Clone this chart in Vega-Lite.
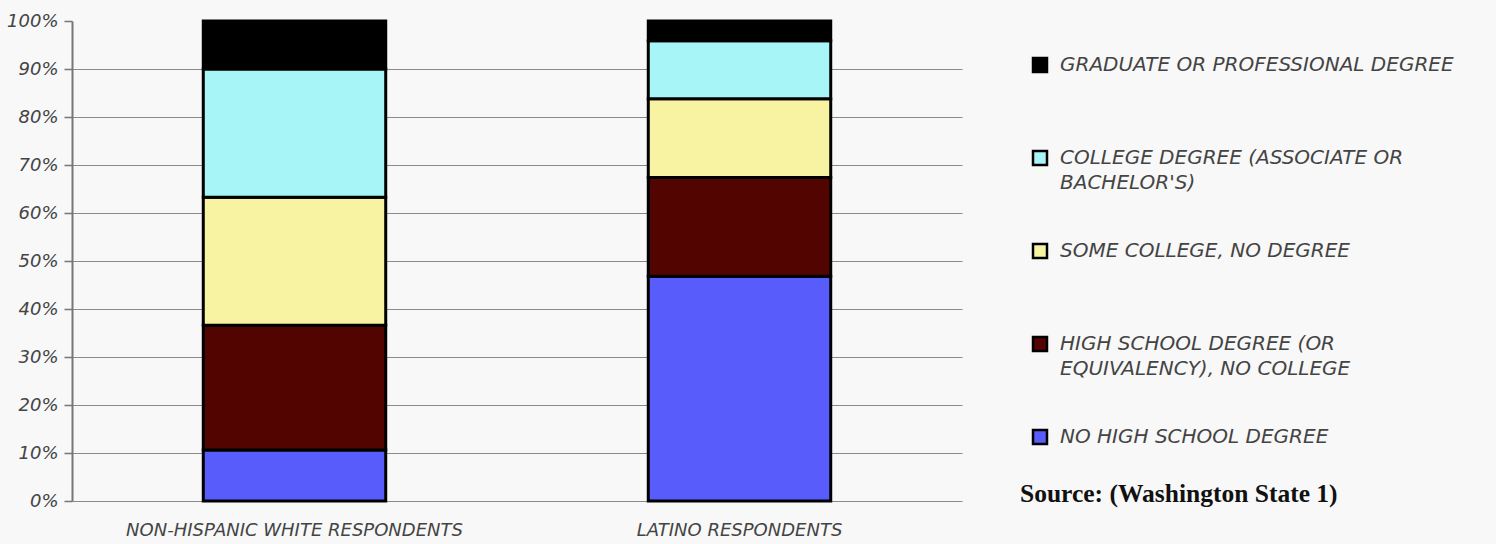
{
  "$schema": "https://vega.github.io/schema/vega-lite/v6.json",
  "width": 890,
  "height": 480,
  "autosize": {"type": "none"},
  "padding": {"left": 72, "top": 21, "right": 534, "bottom": 43},
  "background": "#f8f8f8",
  "config": {"view": {"stroke": null}},
  "data": {
    "values": [
      {"group": "NON-HISPANIC WHITE RESPONDENTS", "level": "NO HIGH SCHOOL DEGREE|", "o": 1, "value": 10.6},
      {"group": "NON-HISPANIC WHITE RESPONDENTS", "level": "HIGH SCHOOL DEGREE (OR|EQUIVALENCY), NO COLLEGE", "o": 2, "value": 26.0},
      {"group": "NON-HISPANIC WHITE RESPONDENTS", "level": "SOME COLLEGE, NO DEGREE|", "o": 3, "value": 26.7},
      {"group": "NON-HISPANIC WHITE RESPONDENTS", "level": "COLLEGE DEGREE (ASSOCIATE OR|BACHELOR'S)", "o": 4, "value": 26.7},
      {"group": "NON-HISPANIC WHITE RESPONDENTS", "level": "GRADUATE OR PROFESSIONAL DEGREE|", "o": 5, "value": 10.0},
      {"group": "LATINO RESPONDENTS", "level": "NO HIGH SCHOOL DEGREE|", "o": 1, "value": 46.8},
      {"group": "LATINO RESPONDENTS", "level": "HIGH SCHOOL DEGREE (OR|EQUIVALENCY), NO COLLEGE", "o": 2, "value": 20.6},
      {"group": "LATINO RESPONDENTS", "level": "SOME COLLEGE, NO DEGREE|", "o": 3, "value": 16.4},
      {"group": "LATINO RESPONDENTS", "level": "COLLEGE DEGREE (ASSOCIATE OR|BACHELOR'S)", "o": 4, "value": 12.1},
      {"group": "LATINO RESPONDENTS", "level": "GRADUATE OR PROFESSIONAL DEGREE|", "o": 5, "value": 4.1}
    ]
  },
  "title": {
    "text": "Source: (Washington State 1)",
    "orient": "bottom",
    "anchor": "start",
    "frame": "group",
    "dx": 948,
    "dy": -61,
    "font": "Liberation Serif",
    "fontSize": 25.5,
    "fontWeight": "bold",
    "color": "#111111"
  },
  "mark": {"type": "bar", "stroke": "#000000", "strokeWidth": 3, "width": {"band": 0.41}},
  "encoding": {
    "x": {
      "field": "group",
      "type": "nominal",
      "sort": ["NON-HISPANIC WHITE RESPONDENTS", "LATINO RESPONDENTS"],
      "scale": {"paddingInner": 0, "paddingOuter": 0},
      "axis": {
        "title": null,
        "labelAngle": 0,
        "ticks": false,
        "domain": false,
        "labelPadding": 20,
        "labelFont": "DejaVu Sans",
        "labelFontStyle": "italic",
        "labelFontSize": 18,
        "labelColor": "#444444",
        "labelLimit": 500
      }
    },
    "y": {
      "field": "value",
      "type": "quantitative",
      "stack": "zero",
      "scale": {"domain": [0, 100], "nice": false},
      "axis": {
        "title": null,
        "values": [0, 10, 20, 30, 40, 50, 60, 70, 80, 90, 100],
        "labelExpr": "datum.value + '%'",
        "grid": true,
        "gridColor": "#8a8a8a",
        "gridWidth": 1.2,
        "gridOpacity": {"condition": {"test": "datum.value === 100", "value": 0}, "value": 1},
        "domainColor": "#777777",
        "domainWidth": 2,
        "tickColor": "#777777",
        "tickWidth": 1.5,
        "tickSize": 8,
        "labelPadding": 6,
        "labelFont": "DejaVu Sans",
        "labelFontStyle": "italic",
        "labelFontSize": 18,
        "labelColor": "#444444"
      }
    },
    "color": {
      "field": "level",
      "type": "nominal",
      "scale": {
        "domain": ["GRADUATE OR PROFESSIONAL DEGREE|", "COLLEGE DEGREE (ASSOCIATE OR|BACHELOR'S)", "SOME COLLEGE, NO DEGREE|", "HIGH SCHOOL DEGREE (OR|EQUIVALENCY), NO COLLEGE", "NO HIGH SCHOOL DEGREE|"],
        "range": ["#000000", "#a8f5f8", "#f7f3a3", "#520400", "#575cfa"]
      },
      "legend": {
        "orient": "none",
        "legendX": 958,
        "legendY": 34,
        "title": null,
        "symbolType": "square",
        "symbolSize": 196,
        "symbolStrokeColor": "#000000",
        "symbolStrokeWidth": 2.5,
        "symbolOpacity": 1,
        "labelFont": "DejaVu Sans",
        "labelFontStyle": "italic",
        "labelFontSize": 20,
        "labelColor": "#444444",
        "labelOffset": 10,
        "labelLimit": 500,
        "rowPadding": 46,
        "labelExpr": "split(datum.label, '|')",
        "encode": {"labels": {"update": {"lineHeight": {"value": 25}}}}
      }
    },
    "order": {"field": "o", "type": "quantitative"}
  }
}
